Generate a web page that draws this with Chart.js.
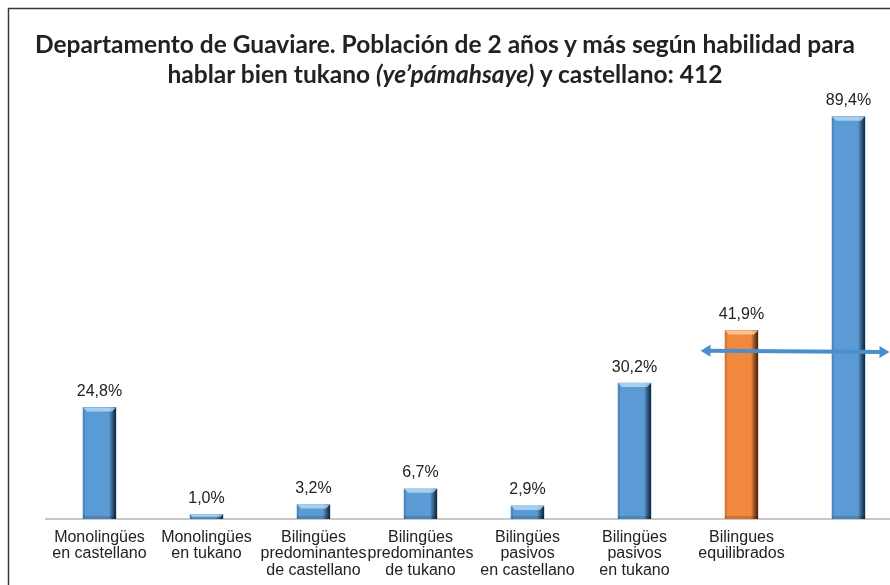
<!DOCTYPE html>
<html>
<head>
<meta charset="utf-8">
<script src="https://cdn.jsdelivr.net/npm/chart.js@4"></script>
<style>
  html, body { margin: 0; padding: 0; background: #fff; }
  body { width: 890px; height: 585px; overflow: hidden; position: relative; }
  #titulo {
    position: absolute; left: 0; top: 29px; width: 890px;
    text-align: center; font-family: Lato, 'Open Sans', sans-serif; font-weight: bold;
    font-size: 24.5px; line-height: 30px; color: #222;
  }
  #myChart { position: absolute; left: 0; top: 0; }
</style>
</head>
<body>
<canvas id="myChart" width="910" height="585" style="width:910px;height:585px"></canvas>
<div id="titulo">Departamento de Guaviare. Población de 2 años y más según habilidad para<br>hablar bien tukano <i>(ye’pámahsaye)</i> y castellano: 412</div>
<script>
const categorias = [
    ['Monolingües', 'en castellano'],
    ['Monolingües', 'en tukano'],
    ['Bilingües', 'predominantes', 'de castellano'],
    ['Bilingües', 'predominantes', 'de tukano'],
    ['Bilingües', 'pasivos', 'en castellano'],
    ['Bilingües', 'pasivos', 'en tukano'],
    ['Bilingues', 'equilibrados'],
    ''
];
const valores = [24.8, 1.0, 3.2, 6.7, 2.9, 30.2, 41.9, 89.4];
const coresBarras = ['#5B9BD5', '#5B9BD5', '#5B9BD5', '#5B9BD5', '#5B9BD5', '#5B9BD5', '#F0883E', '#5B9BD5'];
// seta dupla (valores no eixo y)
const setaInicio = 37.4;
const setaFim = 37.1;

function formatarValor(v) {
    return v.toFixed(1).replace('.', ',') + '%';
}

const pluginMoldura = {
    id: 'moldura',
    beforeDraw(chart) {
        const c = chart.ctx;
        c.save();
        c.strokeStyle = '#3a3a3a';
        c.lineWidth = 1.5;
        c.strokeRect(8.5, 8.5, 1200, 1200);
        c.restore();
    }
};

const pluginBisel = {
    id: 'bisel',
    afterDatasetsDraw(chart) {
        const c = chart.ctx;
        const meta = chart.getDatasetMeta(0);
        meta.data.forEach((bar, i) => {
            const l = bar.x - bar.width / 2, r = bar.x + bar.width / 2;
            const top = bar.y, base = bar.base;
            const h = base - top;
            const laranja = coresBarras[i] === '#F0883E';
            const bv = Math.min(4, h / 2);
            c.save();
            // borda direita escura
            let g = c.createLinearGradient(r - 7, 0, r, 0);
            g.addColorStop(0, 'rgba(0,0,0,0)');
            g.addColorStop(1, laranja ? 'rgba(60,20,0,0.9)' : 'rgba(5,25,45,0.9)');
            c.fillStyle = g;
            c.fillRect(r - 7, top, 7, h);
            // borda esquerda
            c.fillStyle = 'rgba(0,0,0,0.12)';
            c.fillRect(l, top, 2, h);
            // topo claro
            c.fillStyle = laranja ? 'rgba(255,215,180,0.75)' : 'rgba(200,230,250,0.7)';
            c.beginPath();
            c.moveTo(l, top);
            c.lineTo(r, top);
            c.lineTo(r - bv, top + bv);
            c.lineTo(l + bv, top + bv);
            c.closePath();
            c.fill();
            // base
            c.fillStyle = 'rgba(0,0,0,0.15)';
            c.fillRect(l, base - Math.min(3, h / 3), bar.width, Math.min(3, h / 3));
            c.restore();

            // rótulo de valor
            c.save();
            c.fillStyle = '#222';
            c.font = '16px "Liberation Sans", Arial, sans-serif';
            c.textAlign = 'center';
            c.textBaseline = 'middle';
            c.fillText(formatarValor(valores[i]), bar.x, top - 16);
            c.restore();
        });
    }
};

const pluginSeta = {
    id: 'seta',
    afterDraw(chart) {
        const c = chart.ctx;
        const x = chart.scales.x, y = chart.scales.y;
        const x1 = x.getPixelForValue(6) - 41;
        const x2 = x.getPixelForValue(7) + 41;
        const y1 = y.getPixelForValue(setaInicio);
        const y2 = y.getPixelForValue(setaFim);
        const ang = Math.atan2(y2 - y1, x2 - x1);
        const cor = '#4A8FCC';
        c.save();
        c.strokeStyle = cor;
        c.fillStyle = cor;
        c.lineWidth = 4;
        c.beginPath();
        c.moveTo(x1 + 6, y1);
        c.lineTo(x2 - 6, y2);
        c.stroke();
        function ponta(px, py, a) {
            c.beginPath();
            c.moveTo(px, py);
            c.lineTo(px - 10 * Math.cos(a) + 6 * Math.sin(a), py - 10 * Math.sin(a) - 6 * Math.cos(a));
            c.lineTo(px - 10 * Math.cos(a) - 6 * Math.sin(a), py - 10 * Math.sin(a) + 6 * Math.cos(a));
            c.closePath();
            c.fill();
        }
        ponta(x2, y2, ang);
        ponta(x1, y1, ang + Math.PI);
        c.restore();
    }
};

const ctx = document.getElementById('myChart').getContext('2d');

let chart = new Chart(ctx, {
    type: 'bar',
    data: {
        labels: categorias,
        datasets: [{
            data: valores,
            backgroundColor: coresBarras,
            borderWidth: 0,
            barThickness: 33
        }]
    },
    options: {
        responsive: false,
        animation: false,
        layout: { padding: { left: 46, right: 8, top: 69, bottom: 0 } },
        plugins: {
            legend: { display: false },
            tooltip: { enabled: false },
            title: { display: false }
        },
        scales: {
            x: {
                grid: { display: false, drawTicks: false },
                border: { display: true, color: '#c8c8c8', width: 2 },
                ticks: {
                    color: '#222',
                    maxRotation: 0,
                    autoSkip: false,
                    padding: 10,
                    font: { family: '"Liberation Sans", Arial, sans-serif', size: 16, lineHeight: 1.03 }
                },
                afterFit: (s) => { s.height = 66; }
            },
            y: {
                display: false,
                min: 0,
                max: 100
            }
        }
    },
    plugins: [pluginMoldura, pluginBisel, pluginSeta]
});
</script>
</body>
</html>
